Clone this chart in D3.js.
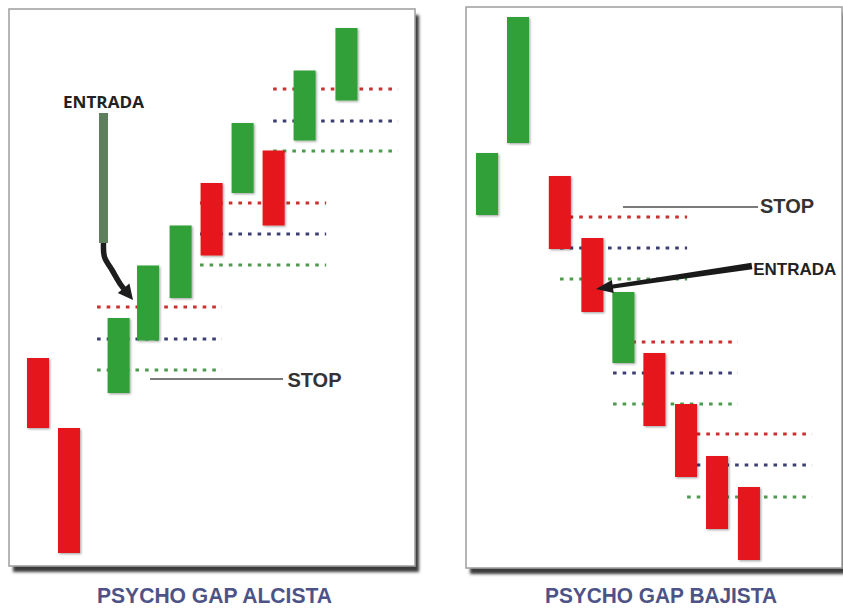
<!DOCTYPE html>
<html>
<head>
<meta charset="utf-8">
<script src="https://cdn.jsdelivr.net/npm/d3@7/dist/d3.min.js"></script>
<style>
  html, body { margin: 0; padding: 0; background: #ffffff; }
  svg { display: block; }
</style>
</head>
<body>
<svg id="chart" width="843" height="608"></svg>
<script>
// ---- Bullish psycho gap (left) ----
const leftTime  = [0, 1, 2.6, 3.55, 4.6, 5.6, 6.6, 7.6, 8.6, 9.95];
const leftOpen  = [42, 28, 35, 45.5, 54, 77, 75, 83.5, 85.5, 93.5];
const leftClose = [28, 3, 50, 60.5, 68.5, 62.5, 89, 68.5, 99.5, 108];

const leftLevelStart = [2.26, 5.58, 7.94];
const leftLevelEnd   = [6.29, 9.65, 11.97];
const leftLevelRed   = [52.2, 73, 95.8];
const leftLevelBlue  = [45.8, 66.8, 89.4];
const leftLevelGreen = [39.6, 60.6, 83.4];

// ---- Bearish psycho gap (right) ----
const rightTime  = [0, 1, 2.35, 3.4, 4.4, 5.4, 6.42, 7.42, 8.45];
const rightOpen  = [70.6, 85, 78.4, 66, 41, 43, 32.8, 22.4, 16.2];
const rightClose = [83, 110.2, 63.8, 51.2, 55.2, 28.4, 18.2, 7.8, 1.6];

const rightLevelStart = [2.71, 4.42, 6.81];
const rightLevelEnd   = [6.81, 8.45, 10.84];
const rightLevelRed   = [70.2, 45.2, 26.8];
const rightLevelBlue  = [64, 39, 20.6];
const rightLevelGreen = [57.8, 32.8, 14.2];

// ---- Annotations, in (time, price) units ----
const leftEntradaLabel = [1.16, 92];
const leftEntradaBar   = [2.468, 91, 65];
const leftEntradaArrow = [[2.468, 65], [2.5, 62.2], [2.742, 59.6], [3.03, 56.6], [3.42, 53.6]];
const leftStopLine     = [3.97, 8.26, 37.8];
const leftStopLabel    = [8.4, 36.2];

const rightStopLine     = [4.74, 9.1, 72.2];
const rightStopLabel    = [9.16, 71];
const rightEntradaLabel = [8.94, 58.6];
const rightEntradaArrow = [[8.9, 60.4], [3.87, 55.8]];

const titles = ["PSYCHO GAP ALCISTA", "PSYCHO GAP BAJISTA"];

// ---- Scales ----
const y = d3.scaleLinear().domain([0, 100]).range([568, 68]);
const xLeft = d3.scaleLinear().domain([0, 1]).range([27, 58]);
const xRight = d3.scaleLinear().domain([0, 1]).range([476, 507]);
const candleSpan = 0.71;

const COLORS = {
  up: "#30a038", down: "#e5161c",
  red: "#c9302e", blue: "#3c3e72", green: "#4e9a50",
  ink: "#222222", stop: "#333333", guide: "#7a7a7a",
  title: "#4d5387", frame: "#a3a3a3"
};

const svg = d3.select("#chart");
const defs = svg.append("defs");
const shadow = defs.append("filter").attr("id", "frameShadow")
  .attr("x", "-5%").attr("y", "-5%").attr("width", "110%").attr("height", "110%");
shadow.append("feGaussianBlur").attr("stdDeviation", 1.6);
const candleShadow = defs.append("filter").attr("id", "candleShadow")
  .attr("x", "-30%").attr("y", "-10%").attr("width", "160%").attr("height", "120%");
candleShadow.append("feDropShadow").attr("dx", 1.2).attr("dy", 1.2)
  .attr("stdDeviation", 0.9).attr("flood-color", "#000").attr("flood-opacity", 0.35);

// Panel frames with a dark drop shadow on the right and bottom
function frame(x0, y0, x1, y1) {
  svg.append("rect").attr("x", x0 + 4).attr("y", y0 + 6)
    .attr("width", x1 - x0).attr("height", y1 - y0)
    .attr("fill", "#3a3a3a").attr("filter", "url(#frameShadow)");
  svg.append("rect").attr("x", x0).attr("y", y0)
    .attr("width", x1 - x0).attr("height", y1 - y0)
    .attr("fill", "#ffffff").attr("stroke", COLORS.frame).attr("stroke-width", 1.6);
}
frame(9, 9, 415, 566);
frame(466, 7, 842, 568);

function levels(g, x, start, end, red, blue, green) {
  const rows = [];
  start.forEach((s, i) => {
    rows.push({ s, e: end[i], v: red[i], c: COLORS.red });
    rows.push({ s, e: end[i], v: blue[i], c: COLORS.blue });
    rows.push({ s, e: end[i], v: green[i], c: COLORS.green });
  });
  g.selectAll("line.level").data(rows).join("line")
    .attr("class", "level")
    .attr("x1", d => x(d.s)).attr("x2", d => x(d.e))
    .attr("y1", d => y(d.v)).attr("y2", d => y(d.v))
    .attr("stroke", d => d.c).attr("stroke-width", 3)
    .attr("stroke-dasharray", "3.6 6");
}

function candles(g, x, time, open, close) {
  const rows = time.map((t, i) => ({ t, o: open[i], c: close[i] }));
  g.selectAll("rect.candle").data(rows).join("rect")
    .attr("class", "candle")
    .attr("x", d => x(d.t))
    .attr("width", d => x(d.t + candleSpan) - x(d.t))
    .attr("y", d => y(Math.max(d.o, d.c)))
    .attr("height", d => Math.abs(y(d.o) - y(d.c)))
    .attr("fill", d => d.c >= d.o ? COLORS.up : COLORS.down)
    .attr("filter", "url(#candleShadow)");
}

function arrowHead(g, from, tip, len, half, color) {
  const dx = tip[0] - from[0], dy = tip[1] - from[1];
  const L = Math.hypot(dx, dy), ux = dx / L, uy = dy / L;
  const bx = tip[0] - ux * len, by = tip[1] - uy * len;
  g.append("polygon")
    .attr("points", [[tip[0], tip[1]], [bx - uy * half, by + ux * half], [bx + uy * half, by - ux * half]]
      .map(p => p.join(",")).join(" "))
    .attr("fill", color);
  return [bx + ux * 1.5, by + uy * 1.5];
}

// ---- Left panel ----
const gL = svg.append("g");
levels(gL, xLeft, leftLevelStart, leftLevelEnd, leftLevelRed, leftLevelBlue, leftLevelGreen);
candles(gL, xLeft, leftTime, leftOpen, leftClose);

gL.append("text")
  .attr("x", xLeft(leftEntradaLabel[0])).attr("y", y(leftEntradaLabel[1]))
  .attr("font-family", "'Open Sans', sans-serif").attr("font-weight", 700)
  .attr("font-size", 15.5).attr("fill", COLORS.ink)
  .attr("textLength", 81).attr("lengthAdjust", "spacingAndGlyphs")
  .text("ENTRADA");

gL.append("rect")
  .attr("x", xLeft(leftEntradaBar[0]) - 4.5).attr("width", 9)
  .attr("y", y(leftEntradaBar[1])).attr("height", y(leftEntradaBar[2]) - y(leftEntradaBar[1]))
  .attr("fill", "#5d7f5c");

{
  const pts = leftEntradaArrow.map(p => [xLeft(p[0]), y(p[1])]);
  const tip = pts[pts.length - 1];
  const base = arrowHead(gL, pts[pts.length - 2], tip, 15, 7.5, "#1e1e1e");
  const shaft = pts.slice(0, -1).concat([base]);
  gL.append("path")
    .attr("d", d3.line().curve(d3.curveCatmullRom)(shaft))
    .attr("fill", "none").attr("stroke", "#1e1e1e").attr("stroke-width", 5.5);
}

gL.append("line")
  .attr("x1", xLeft(leftStopLine[0])).attr("x2", xLeft(leftStopLine[1]))
  .attr("y1", y(leftStopLine[2])).attr("y2", y(leftStopLine[2]))
  .attr("stroke", COLORS.guide).attr("stroke-width", 2);
gL.append("text")
  .attr("x", xLeft(leftStopLabel[0])).attr("y", y(leftStopLabel[1]))
  .attr("font-family", "'Liberation Sans', Arial, sans-serif").attr("font-weight", 700)
  .attr("font-size", 20).attr("fill", COLORS.stop)
  .text("STOP");

// ---- Right panel ----
const gR = svg.append("g");
levels(gR, xRight, rightLevelStart, rightLevelEnd, rightLevelRed, rightLevelBlue, rightLevelGreen);
candles(gR, xRight, rightTime, rightOpen, rightClose);

gR.append("line")
  .attr("x1", xRight(rightStopLine[0])).attr("x2", xRight(rightStopLine[1]))
  .attr("y1", y(rightStopLine[2])).attr("y2", y(rightStopLine[2]))
  .attr("stroke", COLORS.guide).attr("stroke-width", 2);
gR.append("text")
  .attr("x", xRight(rightStopLabel[0])).attr("y", y(rightStopLabel[1]))
  .attr("font-family", "'Liberation Sans', Arial, sans-serif").attr("font-weight", 700)
  .attr("font-size", 20).attr("fill", COLORS.stop)
  .text("STOP");

gR.append("text")
  .attr("x", xRight(rightEntradaLabel[0])).attr("y", y(rightEntradaLabel[1]))
  .attr("font-family", "'Liberation Sans', Arial, sans-serif").attr("font-weight", 700)
  .attr("font-size", 17).attr("fill", COLORS.ink)
  .text("ENTRADA");

{
  const from = [xRight(rightEntradaArrow[0][0]), y(rightEntradaArrow[0][1])];
  const tip = [xRight(rightEntradaArrow[1][0]), y(rightEntradaArrow[1][1])];
  const base = arrowHead(gR, from, tip, 17, 6.5, "#1a1a1a");
  // tapered shaft: wider at the label end
  const dx = base[0] - from[0], dy = base[1] - from[1];
  const L = Math.hypot(dx, dy), nx = -dy / L, ny = dx / L;
  const w0 = 3.2, w1 = 2;
  gR.append("polygon")
    .attr("points", [
      [from[0] + nx * w0, from[1] + ny * w0], [base[0] + nx * w1, base[1] + ny * w1],
      [base[0] - nx * w1, base[1] - ny * w1], [from[0] - nx * w0, from[1] - ny * w0]
    ].map(p => p.join(",")).join(" "))
    .attr("fill", "#1a1a1a");
}

// ---- Panel titles ----
const titleCenters = [214.5, 661];
const titleWidths = [235, 232];
svg.selectAll("text.title").data(titles).join("text")
  .attr("class", "title")
  .attr("x", (d, i) => titleCenters[i]).attr("y", 603)
  .attr("text-anchor", "middle")
  .attr("font-family", "'Liberation Sans', Arial, sans-serif").attr("font-weight", 700)
  .attr("font-size", 22).attr("fill", COLORS.title)
  .attr("textLength", (d, i) => titleWidths[i]).attr("lengthAdjust", "spacingAndGlyphs")
  .text(d => d);
</script>
</body>
</html>
